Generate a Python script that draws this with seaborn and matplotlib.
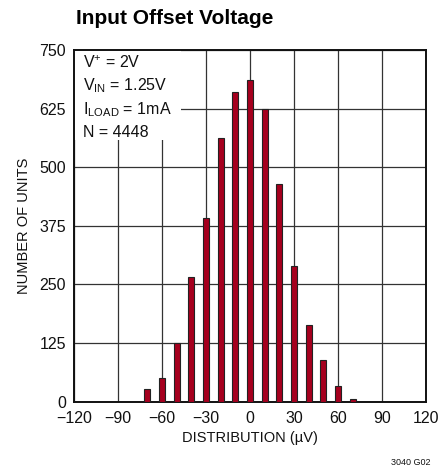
import numpy as np
import pandas as pd
import matplotlib
matplotlib.use('Agg')
import matplotlib.pyplot as plt
import seaborn as sns
from matplotlib.patches import Rectangle

# offset voltage bins (uV) and unit counts
offset_uv = [-70, -60, -50, -40, -30, -20, -10, 0, 10, 20, 30, 40, 50, 60, 70]
units = [28, 50, 125, 266, 392, 562, 660, 687, 624, 465, 289, 164, 90, 34, 5]
x_ticks = [-120, -90, -60, -30, 0, 30, 60, 90, 120]
y_ticks = [0, 125, 250, 375, 500, 625, 750]
notes = [r'V$^{+}$ = 2V', r'V$_{\mathregular{IN}}$ = 1.25V',
         r'I$_{\mathregular{LOAD}}$ = 1mA', 'N = 4448']

sns.set_style('white')
font = ['Liberation Sans', 'DejaVu Sans']
plt.rcParams['font.family'] = font
plt.rcParams['mathtext.fontset'] = 'custom'
plt.rcParams['mathtext.rm'] = 'Liberation Sans'
plt.rcParams['mathtext.it'] = 'Liberation Sans'
plt.rcParams['text.color'] = '#111111'
plt.rcParams['axes.labelcolor'] = '#111111'

df = pd.DataFrame({'offset': offset_uv, 'units': units})

fig = plt.figure(figsize=(4.41, 4.74), dpi=100)
ax = fig.add_axes([0.168, 0.1525, 0.798, 0.742])

ax.set_axisbelow(True)
ax.grid(True, color='#333333', linewidth=0.9, zorder=0)
sns.barplot(data=df, x='offset', y='units', native_scale=True, width=0.4,
            color='#A6001E', saturation=1, edgecolor='#222222', linewidth=0.8,
            ax=ax, zorder=3)

ax.set_xlim(-120, 120)
ax.set_ylim(0, 750)
ax.set_xticks(x_ticks)
ax.set_yticks(y_ticks)
ax.tick_params(axis='both', length=0, labelsize=11.5, colors='#111111')
ax.tick_params(axis='x', pad=7)
ax.tick_params(axis='y', pad=6)
for s in ax.spines.values():
    s.set_color('#111111')
    s.set_linewidth(1.4)

ax.set_xlabel('DISTRIBUTION (µV)', fontsize=10.5, labelpad=3)
ax.set_ylabel('NUMBER OF UNITS', fontsize=10.5, labelpad=6)

# white box behind the conditions text
ax.add_patch(Rectangle((0, 0.745), 0.305, 0.255, transform=ax.transAxes,
                       facecolor='white', edgecolor='none', zorder=1))
ys = [0.963, 0.898, 0.83, 0.765]
for t, yy in zip(notes, ys):
    ax.text(0.024, yy, t, transform=ax.transAxes, fontsize=11.5,
            va='center', ha='left', zorder=4)

fig.text(0.172, 0.962, 'Input Offset Voltage', fontsize=15, fontweight='bold',
         ha='left', va='center', color='black')
fig.text(0.932, 0.025, '3040 G02', fontsize=6.5, ha='center', va='center')

fig.savefig('out.png', dpi=100)
